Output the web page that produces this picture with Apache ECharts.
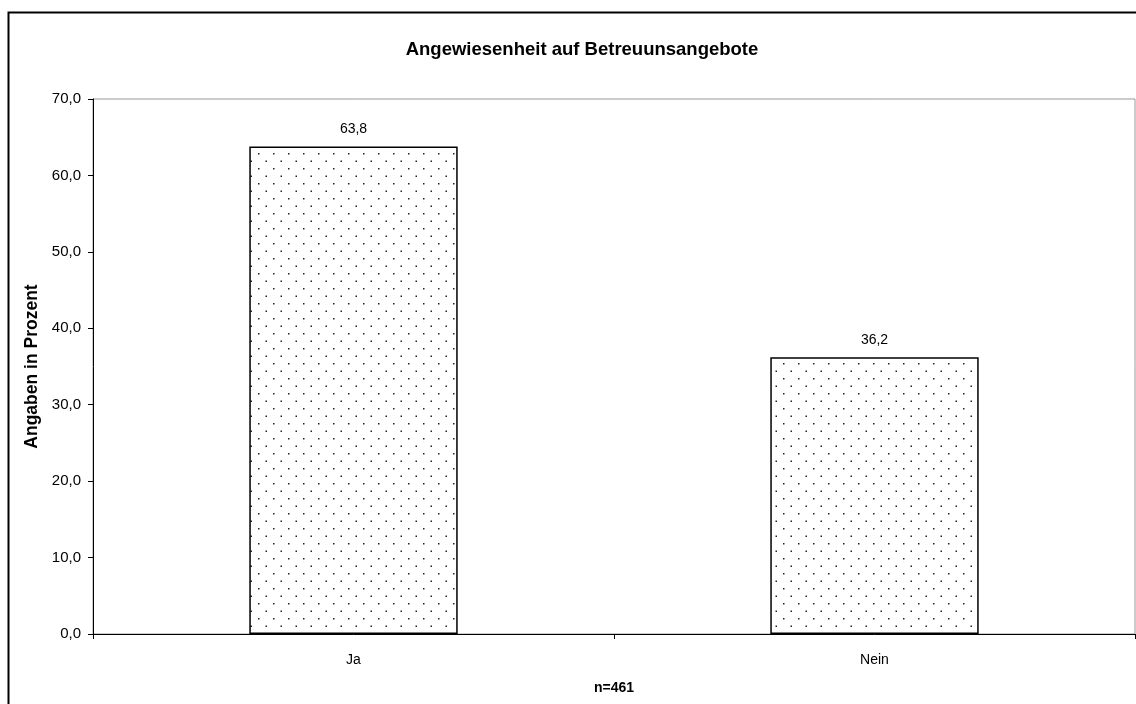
<!DOCTYPE html>
<html>
<head>
<meta charset="utf-8">
<script src="https://cdn.jsdelivr.net/npm/echarts@6/dist/echarts.min.js"></script>
<style>
  html, body { margin: 0; padding: 0; background: #fff; }
  #chart { width: 1136px; height: 704px; }
</style>
</head>
<body>
<div id="chart"></div>
<script>
// Chart data
const categories = ['Ja', 'Nein'];
const shares = [63.8, 36.2];
const yTicks = { min: 0, max: 70, step: 10 };
const chartTitle = 'Angewiesenheit auf Betreuunsangebote';
const yTitle = 'Angaben in Prozent';
const xTitle = 'n=461';

// Dotted fill pattern for the bars
function dotPattern() {
  const c = document.createElement('canvas');
  c.width = 15; c.height = 15;
  const g = c.getContext('2d');
  g.fillStyle = '#fff';
  g.fillRect(0, 0, 15, 15);
  g.fillStyle = '#222';
  g.fillRect(3, 3, 1.5, 1.5);
  g.fillRect(10.5, 10.5, 1.5, 1.5);
  return c;
}

const fmt = v => v.toFixed(1).replace('.', ',');
const font = 'Liberation Sans, Arial, sans-serif';

const chart = echarts.init(document.getElementById('chart'), null, { renderer: 'canvas' });
chart.setOption({
  animation: false,
  backgroundColor: '#fff',
  textStyle: { fontFamily: font },
  title: {
    text: chartTitle,
    left: 577, top: 35, textAlign: 'center',
    textStyle: { fontFamily: font, fontSize: 18.5, fontWeight: 'bold', color: '#000' }
  },
  graphic: [{
    type: 'rect', left: 6, top: 10, z: -1,
    shape: { width: 1140, height: 700 },
    style: { fill: 'none', stroke: '#000', lineWidth: 2 }
  }],
  grid: {
    left: 93, top: 99, right: 1, bottom: 70,
    show: true, borderColor: '#999', borderWidth: 1, backgroundColor: 'transparent'
  },
  xAxis: {
    type: 'category',
    data: categories,
    name: xTitle,
    nameLocation: 'middle',
    nameGap: 47,
    nameTextStyle: { fontFamily: font, fontSize: 14, fontWeight: 'bold', color: '#000' },
    axisLine: { lineStyle: { color: '#000', width: 1 } },
    axisTick: { show: true, length: 5, lineStyle: { color: '#000' } },
    axisLabel: { fontFamily: font, fontSize: 14, color: '#000', margin: 19 }
  },
  yAxis: {
    type: 'value',
    min: yTicks.min, max: yTicks.max, interval: yTicks.step,
    name: yTitle,
    nameLocation: 'middle',
    nameGap: 50,
    nameTextStyle: { fontFamily: font, fontSize: 17.5, fontWeight: 'bold', color: '#000' },
    axisLine: { show: true, lineStyle: { color: '#000', width: 1 } },
    axisTick: { show: true, length: 5, lineStyle: { color: '#000' } },
    axisLabel: { fontFamily: font, fontSize: 15, color: '#000', margin: 12, formatter: fmt },
    splitLine: { show: false }
  },
  series: [{
    type: 'bar',
    data: shares,
    barWidth: '40%',
    itemStyle: {
      color: { image: dotPattern(), repeat: 'repeat' },
      borderColor: '#000',
      borderWidth: 1.5
    },
    label: {
      show: true, position: 'top', distance: 10,
      fontFamily: font, fontSize: 14, color: '#000',
      formatter: p => fmt(p.value)
    }
  }]
});
</script>
</body>
</html>
